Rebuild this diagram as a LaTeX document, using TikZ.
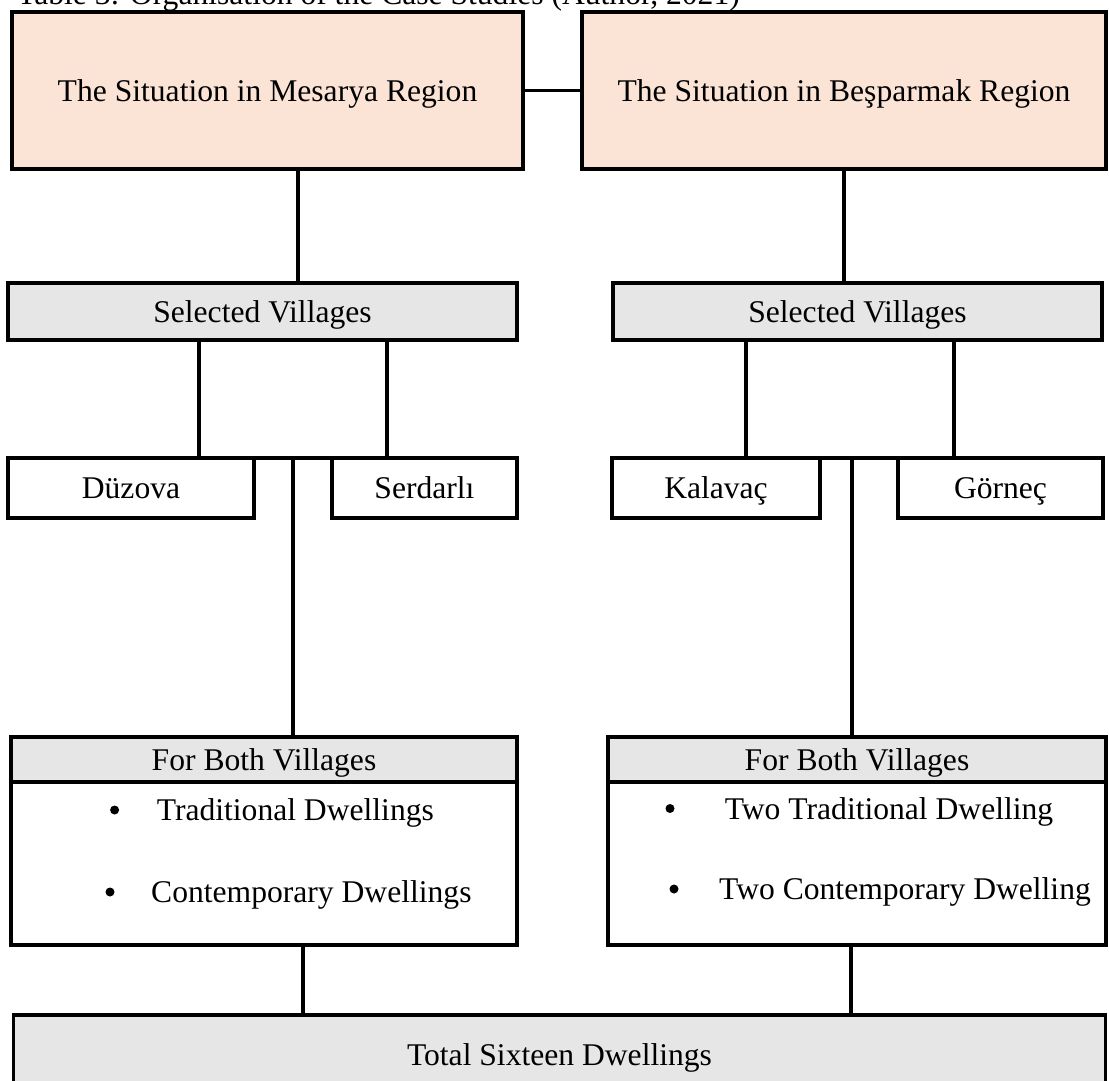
\documentclass[tikz,border=0pt]{standalone}
\usepackage{fontspec}
\setmainfont{Liberation Serif}
\usetikzlibrary{calc}
\definecolor{casepeach}{RGB}{251,228,214}
\definecolor{casegray}{RGB}{231,230,230}

\tikzset{
  cbox/.style={draw, line width=3.8pt, outer sep=0pt, inner sep=0pt, anchor=north west,
    text height=21pt, text depth=0pt},
  regionbox/.style={cbox, fill=casepeach},
  selbox/.style={cbox, fill=casegray},
  villbox/.style={cbox, fill=white},
  bulletdot/.style={circle, fill=black, inner sep=0pt, minimum size=9pt},
  bullettext/.style={anchor=west, inner sep=0pt, text height=21pt, text depth=0pt},
  link/.style={line width=3.8pt}
}

\begin{document}
\begin{tikzpicture}[x=1pt, y=-1pt, font=\fontsize{31.6pt}{38pt}\selectfont]

\useasboundingbox (0,0) rectangle (1109,1081);
\clip (0,0) rectangle (1109,1081);

% === Caption (cut at the top) ===
\node[anchor=base west, inner sep=0pt] (caption) at (17,5) {Table 3: Organisation of the Case Studies (Author, 2021)};

% === Regions ===
\node[regionbox, minimum width=511pt, minimum height=157pt] (mesarya) at (12,12) {The Situation in Mesarya Region};
\node[regionbox, minimum width=524pt, minimum height=157pt] (besparmak) at (582,12) {The Situation in Beşparmak Region};

% === Selected villages ===
\node[selbox, minimum width=509pt, minimum height=57pt] (selL) at (8,283) {Selected Villages};
\node[selbox, minimum width=489pt, minimum height=57pt] (selR) at (613,283) {Selected Villages};

% === Villages ===
\node[villbox, minimum width=246pt, minimum height=60pt] (duzova) at (8,458) {Düzova};
\node[villbox, minimum width=185pt, minimum height=60pt] (serdarli) at (332,458) {Serdarlı};
\node[villbox, minimum width=208pt, minimum height=60pt] (kalavac) at (612,458) {Kalavaç};
\node[villbox, minimum width=205pt, minimum height=60pt] (gornec) at (898,458) {Görneç};

% === Dwellings ===
\node[selbox, minimum width=506pt, minimum height=45pt] (bothL) at (11,737) {For Both Villages};
\node[villbox, minimum width=506pt, minimum height=163pt] (dwellL) at (bothL.south west) {};
\node[selbox, minimum width=498pt, minimum height=45pt] (bothR) at (608,737) {For Both Villages};
\node[villbox, minimum width=498pt, minimum height=163pt] (dwellR) at (bothR.south west) {};

\node[bulletdot] (bL1) at (114.6,810) {};
\node[bullettext] (tL1) at (156.6,810) {Traditional Dwellings};
\node[bulletdot] (bL2) at (110,892) {};
\node[bullettext] (tL2) at (151,892) {Contemporary Dwellings};
\node[bulletdot] (bR1) at (670,808.5) {};
\node[bullettext] (tR1) at (724.6,808.5) {Two Traditional Dwelling};
\node[bulletdot] (bR2) at (674,889) {};
\node[bullettext] (tR2) at (719,889) {Two Contemporary Dwelling};

% === Total ===
\node[selbox, minimum width=1092pt, minimum height=80pt] (total) at (13.5,1015) {Total Sixteen Dwellings};

% === Connectors ===
\coordinate (xa) at (298,0);
\coordinate (xb) at (844,0);
\coordinate (xc) at (199,0);
\coordinate (xd) at (387,0);
\coordinate (xe) at (746,0);
\coordinate (xf) at (954,0);
\coordinate (xg) at (293,0);
\coordinate (xh) at (852,0);
\coordinate (xi) at (303,0);
\coordinate (xj) at (851,0);

\draw[link] (mesarya.east) -- (besparmak.west);
\draw[link] (mesarya.south -| xa) -- (selL.north -| xa);
\draw[link] (besparmak.south -| xb) -- (selR.north -| xb);

\draw[link] (selL.south -| xc) -- (duzova.north -| xc);
\draw[link] (selL.south -| xd) -- (serdarli.north -| xd);
\draw[link] (selR.south -| xe) -- (kalavac.north -| xe);
\draw[link] (selR.south -| xf) -- (gornec.north -| xf);

\draw[link] (duzova.north east) -- (serdarli.north west);
\draw[link] (duzova.north -| xg) -- (bothL.north -| xg);
\draw[link] (kalavac.north east) -- (gornec.north west);
\draw[link] (kalavac.north -| xh) -- (bothR.north -| xh);

\draw[link] (dwellL.south -| xi) -- (total.north -| xi);
\draw[link] (dwellR.south -| xj) -- (total.north -| xj);

\end{tikzpicture}
\end{document}
